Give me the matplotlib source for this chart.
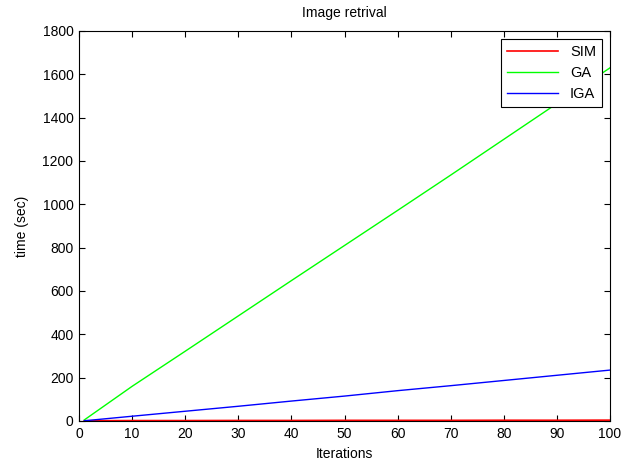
import numpy as np
import matplotlib
matplotlib.use('Agg')
import matplotlib.pyplot as plt

plt.rcParams['font.family'] = ['Liberation Sans', 'DejaVu Sans']

iterations = [1, 10, 20, 30, 40, 50, 60, 70, 80, 90, 100]
sim_time = [1, 2, 2, 2.5, 2.5, 3, 3, 3, 3.5, 3.5, 4]
ga_time = [5, 160, 322, 485, 648, 810, 972, 1135, 1300, 1465, 1630]
iga_time = [1, 22, 45, 68, 92, 115, 140, 163, 187, 211, 235]

fig = plt.figure(figsize=(6.32, 4.63), dpi=100)
ax = fig.add_axes([79 / 632, 42 / 463, 531 / 632, 390 / 463])

ax.plot(iterations, sim_time, color='#ff0000', linewidth=1.2, label='SIM')
ax.plot(iterations, ga_time, color='#00ff00', linewidth=1, label='GA')
ax.plot(iterations, iga_time, color='#0000ff', linewidth=1, label='IGA')

ax.set_xlim(0, 100)
ax.set_ylim(0, 1800)
ax.set_xticks(np.arange(0, 101, 10))
ax.set_yticks(np.arange(0, 1801, 200))
ax.tick_params(direction='in', top=True, right=True, labelsize=10, length=4, pad=4)
for s in ax.spines.values():
    s.set_linewidth(0.8)

ax.set_title('Image retrival', fontsize=10, pad=10)
ax.set_xlabel('Iterations', fontsize=10, labelpad=5)
ax.set_ylabel('time (sec)', fontsize=10, labelpad=10)

leg = ax.legend(loc='upper right', fontsize=10.5, fancybox=False, framealpha=1,
                edgecolor='black', borderaxespad=0.55, handlelength=3.5,
                labelspacing=0.5)
leg.get_frame().set_linewidth(0.8)

fig.savefig('out.png', dpi=100)
